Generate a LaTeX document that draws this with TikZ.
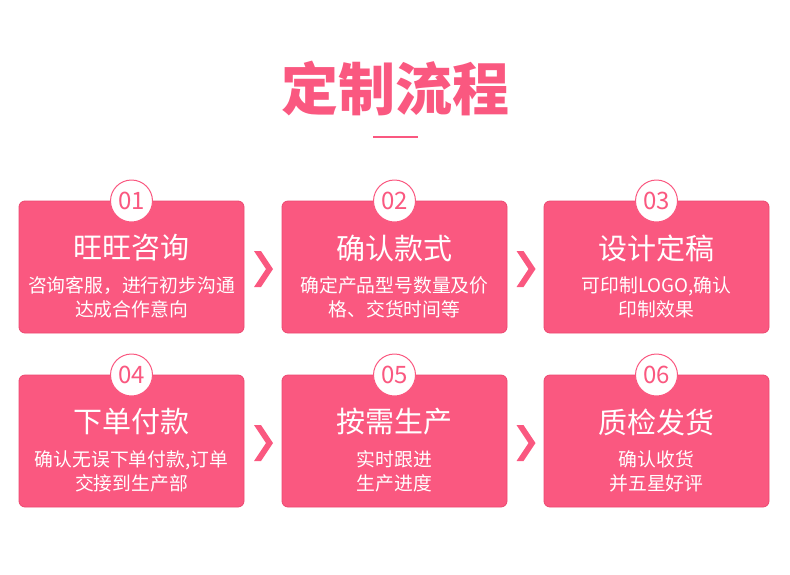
\documentclass[tikz,border=0pt]{standalone}
\usepackage{fontspec}
\setmainfont{Noto Sans CJK SC}
\usetikzlibrary{positioning, calc}

\definecolor{rosepink}{RGB}{250,88,128}
\definecolor{roseedge}{RGB}{236,72,112}

\begin{document}
\begin{tikzpicture}[
  x=1pt, y=1pt,
  heading/.style={
    text=rosepink, font=\fontsize{57}{62}\selectfont\bfseries,
    inner sep=0pt
  },
  stepbox/.style={
    rectangle, rounded corners=6pt,
    draw=roseedge, line width=0.8pt, fill=rosepink,
    minimum width=225pt, minimum height=132pt,
    inner sep=0pt, outer sep=0pt
  },
  badge/.style={
    circle, draw=rosepink, line width=1pt, fill=white,
    minimum size=42pt, inner sep=0pt,
    text=rosepink, font=\fontsize{24}{26}\selectfont
  },
  steptitle/.style={
    text=white, font=\fontsize{29}{32}\selectfont, inner sep=0pt
  },
  stepdesc/.style={
    text=white, align=center, font=\fontsize{18.8}{24}\selectfont,
    inner sep=0pt
  },
  chev/.style={
    fill=rosepink
  }
]
\useasboundingbox (0,0) rectangle (790,-574);

% ================= Heading =================
\node[heading] (Head) at (395,-88) {定制流程};
\draw[rosepink, line width=2.5pt] (373,-137) -- (418,-137);

% ================= Row 1 =================
\node[stepbox] (S1) at (131.5,-267) {};
\node[stepbox, right=38pt of S1] (S2) {};
\node[stepbox, right=37pt of S2] (S3) {};

% ================= Row 2 =================
\node[stepbox, below=42pt of S1] (S4) {};
\node[stepbox, right=38pt of S4] (S5) {};
\node[stepbox, right=37pt of S5] (S6) {};

% ================= Badges =================
\foreach \s/\n in {S1/01, S2/02, S3/03, S4/04, S5/05, S6/06}
  \node[badge] (B\n) at (\s.north) {\n};

% ================= Texts =================
\node[steptitle] (T1) at ([yshift=-47pt]S1.north) {旺旺咨询};
\node[stepdesc] (D1) at ([yshift=-96pt]S1.north) {咨询客服，进行初步沟通\\达成合作意向};

\node[steptitle] (T2) at ([yshift=-47pt]S2.north) {确认款式};
\node[stepdesc] (D2) at ([yshift=-96pt]S2.north) {确定产品型号数量及价\\格、交货时间等};

\node[steptitle] (T3) at ([yshift=-47pt]S3.north) {设计定稿};
\node[stepdesc] (D3) at ([yshift=-96pt]S3.north) {可印制LOGO,确认\\印制效果};

\node[steptitle] (T4) at ([yshift=-47pt]S4.north) {下单付款};
\node[stepdesc] (D4) at ([yshift=-96pt]S4.north) {确认无误下单付款,订单\\交接到生产部};

\node[steptitle] (T5) at ([yshift=-47pt]S5.north) {按需生产};
\node[stepdesc] (D5) at ([yshift=-96pt]S5.north) {实时跟进\\生产进度};

\node[steptitle] (T6) at ([yshift=-47pt]S6.north) {质检发货};
\node[stepdesc] (D6) at ([yshift=-96pt]S6.north) {确认收货\\并五星好评};

% ================= Chevrons =================
\foreach \a/\b in {S1/S2, S2/S3, S4/S5, S5/S6} {
  \coordinate (M\a) at ($(\a.east)!0.5!(\b.west)+(0,-2)$);
  \fill[chev] (M\a) ++(-9,18) -- ++(7,0) -- ++(12,-18) -- ++(-12,-18)
    -- ++(-7,0) -- ++(12,18) -- cycle;
}

\end{tikzpicture}
\end{document}
